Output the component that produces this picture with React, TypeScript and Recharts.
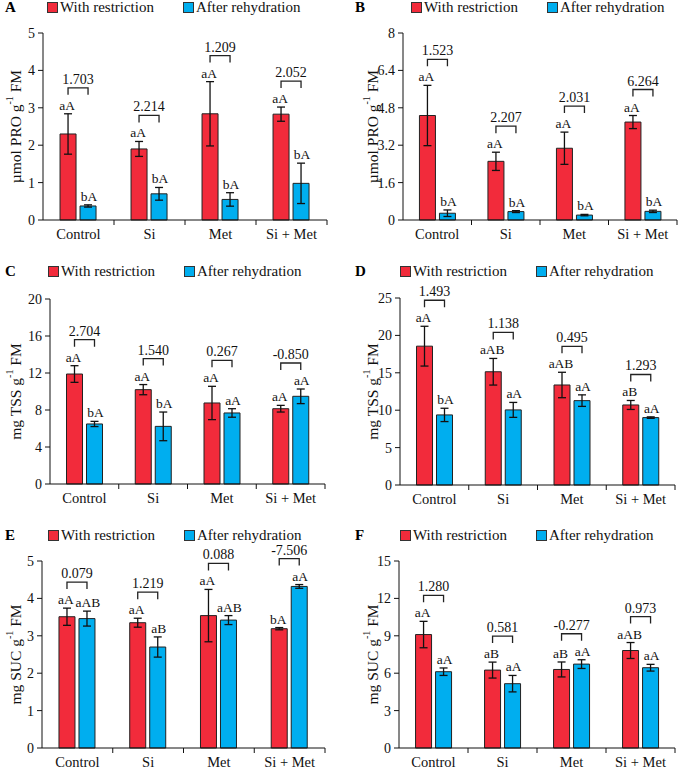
import React from "react";
import { BarChart, Bar, XAxis, YAxis, ErrorBar, LabelList, Legend } from "recharts";

const FONT = '"Liberation Serif", "Times New Roman", serif';
const RED = "#F22B3B";
const BLUE = "#00AEEF";
const BAR_GAP = 4;

const categories = ["Control", "Si", "Met", "Si + Met"];
const seriesNames = ["With restriction", "After rehydration"];

// A - proline
const proARestr = [2.3, 1.9, 2.84, 2.83];
const proARestrErr = [0.54, 0.2, 0.86, 0.19];
const proARehyd = [0.375, 0.7, 0.55, 0.98];
const proARehydErr = [0.03, 0.17, 0.18, 0.54];
const proARestrLetters = ["aA", "aA", "aA", "aA"];
const proARehydLetters = ["bA", "bA", "bA", "bA"];
const proAChange = ["1.703", "2.214", "1.209", "2.052"];
const proATicks = [0, 1, 2, 3, 4, 5];

// B - proline
const proBRestr = [4.47, 2.51, 3.07, 4.19];
const proBRestrErr = [1.29, 0.39, 0.69, 0.28];
const proBRehyd = [0.29, 0.36, 0.21, 0.37];
const proBRehydErr = [0.14, 0.04, 0.03, 0.05];
const proBRestrLetters = ["aA", "aA", "aA", "aA"];
const proBRehydLetters = ["bA", "bA", "bA", "bA"];
const proBChange = ["1.523", "2.207", "2.031", "6.264"];
const proBTicks = [0, 1.6, 3.2, 4.8, 6.4, 8];

// C - total soluble sugars
const tssCRestr = [11.89, 10.2, 8.76, 8.14];
const tssCRestrErr = [0.9, 0.55, 1.8, 0.36];
const tssCRehyd = [6.49, 6.23, 7.68, 9.48];
const tssCRehydErr = [0.28, 1.55, 0.46, 0.79];
const tssCRestrLetters = ["aA", "aA", "aA", "aA"];
const tssCRehydLetters = ["bA", "bA", "aA", "aA"];
const tssCChange = ["2.704", "1.540", "0.267", "-0.850"];
const tssCTicks = [0, 4, 8, 12, 16, 20];

// D - total soluble sugars
const tssDRestr = [18.56, 15.14, 13.37, 10.7];
const tssDRestrErr = [2.66, 1.78, 1.7, 0.6];
const tssDRehyd = [9.37, 10.04, 11.28, 9.01];
const tssDRehydErr = [0.89, 1.0, 0.77, 0.1];
const tssDRestrLetters = ["aA", "aAB", "aAB", "aB"];
const tssDRehydLetters = ["bA", "aA", "aA", "aA"];
const tssDChange = ["1.493", "1.138", "0.495", "1.293"];
const tssDTicks = [0, 5, 10, 15, 20, 25];

// E - sucrose
const sucERestr = [3.51, 3.35, 3.54, 3.19];
const sucERestrErr = [0.23, 0.12, 0.7, 0.03];
const sucERehyd = [3.46, 2.7, 3.42, 4.32];
const sucERehydErr = [0.2, 0.27, 0.12, 0.05];
const sucERestrLetters = ["aA", "aA", "aA", "bA"];
const sucERehydLetters = ["aAB", "aB", "aAB", "aA"];
const sucEChange = ["0.079", "1.219", "0.088", "-7.506"];
const sucETicks = [0, 1, 2, 3, 4, 5];

// F - sucrose
const sucFRestr = [9.1, 6.25, 6.3, 7.82];
const sucFRestrErr = [1.06, 0.64, 0.6, 0.64];
const sucFRehyd = [6.12, 5.16, 6.73, 6.44];
const sucFRehydErr = [0.3, 0.66, 0.35, 0.27];
const sucFRestrLetters = ["aA", "aB", "aB", "aAB"];
const sucFRehydLetters = ["aA", "aA", "aA", "aA"];
const sucFChange = ["1.280", "0.581", "-0.277", "0.973"];
const sucFTicks = [0, 3, 6, 9, 12, 15];

type Row = {
  name: string;
  restr: number;
  restrErr: number;
  rehyd: number;
  rehydErr: number;
  restrLetter: string;
  rehydLetter: string;
  change: string;
};

type Box = {
  left: number; top: number; w: number; h: number;
  plotL: number; plotT: number; plotR: number; plotB: number;
  legX: number; legY: number; tagX: number; labelX: number;
};

function makeLabel(rows: Row[], which: "restr" | "rehyd") {
  return (props: any) => {
    const vb = props.viewBox ?? props;
    const row = rows[props.index];
    if (!row || !vb) return null;
    const { x, y, width, height } = vb;
    const val = which === "restr" ? row.restr : row.rehyd;
    const err = which === "restr" ? row.restrErr : row.rehydErr;
    const ppu = height / val;
    const cx = x + width / 2;
    const letterY = y - err * ppu - 4;
    const letter = which === "restr" ? row.restrLetter : row.rehydLetter;
    if (which === "rehyd") {
      return (
        <text x={cx + 1} y={letterY} textAnchor="middle" fontSize={13.5} fontFamily={FONT} fill="#111">
          {letter}
        </text>
      );
    }
    // bracket between the pair, above the higher letter
    const base = y + height;
    const bcx = x + width + BAR_GAP + width / 2;
    const blueLetterY = base - (row.rehyd + row.rehydErr) * ppu - 4;
    const by = Math.min(letterY, blueLetterY) - 22;
    return (
      <g>
        <text x={cx - 1} y={letterY} textAnchor="middle" fontSize={13.5} fontFamily={FONT} fill="#111">
          {letter}
        </text>
        <path d={`M${cx},${by + 7}V${by}H${bcx}V${by + 7}`} fill="none" stroke="#222" strokeWidth={1.3} />
        <text x={(cx + bcx) / 2} y={by - 4} textAnchor="middle" fontSize={14} fontFamily={FONT} fill="#111">
          {row.change}
        </text>
      </g>
    );
  };
}

function CategoryTick({ x, y, payload, index, band }: any) {
  return (
    <g>
      <text x={x} y={y + 14} textAnchor="middle" dominantBaseline="central" fontSize={14.5} fontFamily={FONT} fill="#111">
        {payload.value}
      </text>
      {index > 0 && <line x1={x - band / 2} x2={x - band / 2} y1={y} y2={y + 5} stroke="#111" />}
      {index === 3 && <line x1={x + band / 2} x2={x + band / 2} y1={y} y2={y + 5} stroke="#111" />}
    </g>
  );
}

function YTitle({ cx, cy, unit }: any) {
  return (
    <text
      x={cx}
      y={cy}
      transform={`rotate(-90 ${cx} ${cy})`}
      textAnchor="middle"
      dominantBaseline="central"
      fontSize={15.5}
      fontFamily={FONT}
      fill="#111"
    >
      {unit} g<tspan dy={-6} fontSize={10}>-1</tspan>
      <tspan dy={6}> FM</tspan>
    </text>
  );
}

function LegendRow({ payload }: any) {
  const items = [...(payload || [])].sort(
    (a: any, b: any) => seriesNames.indexOf(a.value) - seriesNames.indexOf(b.value)
  );
  return (
    <div style={{ display: "flex", alignItems: "center", fontFamily: FONT, fontSize: 15, lineHeight: "18px", whiteSpace: "nowrap", color: "#111" }}>
      {items.map((p: any, i: number) => (
        <span key={i} style={{ display: "flex", alignItems: "center", marginRight: i === 0 ? 29 : 0 }}>
          <span style={{ width: 9, height: 9, background: p.color, border: "1px solid #333", marginRight: 2 }} />
          {p.value}
        </span>
      ))}
    </div>
  );
}

function Panel(props: {
  tag: string; unit: string; ticks: number[]; box: Box;
  restr: number[]; restrErr: number[]; rehyd: number[]; rehydErr: number[];
  restrLetters: string[]; rehydLetters: string[]; change: string[];
}) {
  const { box, ticks } = props;
  const rows: Row[] = categories.map((name, i) => ({
    name,
    restr: props.restr[i],
    restrErr: props.restrErr[i],
    rehyd: props.rehyd[i],
    rehydErr: props.rehydErr[i],
    restrLetter: props.restrLetters[i],
    rehydLetter: props.rehydLetters[i],
    change: props.change[i],
  }));
  const band = (box.plotR - box.plotL) / categories.length;
  return (
    <div style={{ position: "absolute", left: box.left, top: box.top, width: box.w, height: box.h }}>
      <div style={{ position: "absolute", left: box.tagX, top: box.legY - 9, fontFamily: FONT, fontWeight: "bold", fontSize: 15, lineHeight: "18px", zIndex: 2 }}>
        {props.tag}
      </div>
      <BarChart
        width={box.w}
        height={box.h}
        data={rows}
        margin={{ top: box.plotT, right: box.w - box.plotR, left: 0, bottom: box.h - box.plotB - 20 }}
        barGap={BAR_GAP}
        barCategoryGap="24%"
        style={{ overflow: "visible" }}
      >
        <XAxis
          dataKey="name"
          height={20}
          interval={0}
          tickLine={false}
          tickSize={0}
          tickMargin={0}
          axisLine={{ stroke: "#111" }}
          tick={<CategoryTick band={band} />}
        />
        <YAxis
          width={box.plotL}
          domain={[0, ticks[ticks.length - 1]]}
          ticks={ticks}
          interval={0}
          axisLine={{ stroke: "#111" }}
          tickLine={{ stroke: "#111" }}
          tickSize={5}
          tickMargin={3}
          tick={{ fill: "#111", fontSize: 14, fontFamily: FONT }}
          label={<YTitle cx={box.labelX} cy={(box.plotT + box.plotB) / 2} unit={props.unit} />}
        />
        <Legend
          layout="horizontal"
          verticalAlign="middle"
          align="center"
          itemSorter={(item: any) => seriesNames.indexOf(item.value)}
          wrapperStyle={{ top: box.legY - 9, left: box.legX, width: 300 }}
          content={<LegendRow />}
        />
        <Bar dataKey="restr" name={seriesNames[0]} fill={RED} stroke="#222" strokeWidth={1} isAnimationActive={false}>
          <ErrorBar dataKey="restrErr" width={4} stroke="#111" strokeWidth={1.3} direction="y" />
          <LabelList dataKey="restrLetter" content={makeLabel(rows, "restr")} />
        </Bar>
        <Bar dataKey="rehyd" name={seriesNames[1]} fill={BLUE} stroke="#222" strokeWidth={1} isAnimationActive={false}>
          <ErrorBar dataKey="rehydErr" width={4} stroke="#111" strokeWidth={1.3} direction="y" />
          <LabelList dataKey="rehydLetter" content={makeLabel(rows, "rehyd")} />
        </Bar>
      </BarChart>
    </div>
  );
}

const boxA: Box = { left: 0, top: 0, w: 340, h: 256, plotL: 43, plotT: 33, plotR: 327, plotB: 220, legX: 47, legY: 7, tagX: 5, labelX: 15 };
const boxB: Box = { left: 340, top: 0, w: 339, h: 256, plotL: 63, plotT: 33, plotR: 337, plotB: 220, legX: 71, legY: 7, tagX: 15, labelX: 32 };
const boxC: Box = { left: 0, top: 256, w: 340, h: 256, plotL: 50, plotT: 43, plotR: 325, plotB: 228, legX: 48, legY: 15, tagX: 5, labelX: 15 };
const boxD: Box = { left: 340, top: 256, w: 339, h: 256, plotL: 60, plotT: 42, plotR: 335, plotB: 229, legX: 60, legY: 15, tagX: 15, labelX: 32 };
const boxE: Box = { left: 0, top: 512, w: 340, h: 257, plotL: 42, plotT: 49, plotR: 325, plotB: 236, legX: 48, legY: 23, tagX: 5, labelX: 15 };
const boxF: Box = { left: 340, top: 512, w: 339, h: 257, plotL: 59, plotT: 49, plotR: 335, plotB: 236, legX: 60, legY: 23, tagX: 15, labelX: 32 };

export default function App() {
  return (
    <div style={{ position: "absolute", left: 0, top: 0, width: 679, height: 769, background: "#fff" }}>
      <Panel tag="A" unit="µmol PRO" ticks={proATicks} box={boxA}
        restr={proARestr} restrErr={proARestrErr} rehyd={proARehyd} rehydErr={proARehydErr}
        restrLetters={proARestrLetters} rehydLetters={proARehydLetters} change={proAChange} />
      <Panel tag="B" unit="µmol PRO" ticks={proBTicks} box={boxB}
        restr={proBRestr} restrErr={proBRestrErr} rehyd={proBRehyd} rehydErr={proBRehydErr}
        restrLetters={proBRestrLetters} rehydLetters={proBRehydLetters} change={proBChange} />
      <Panel tag="C" unit="mg TSS" ticks={tssCTicks} box={boxC}
        restr={tssCRestr} restrErr={tssCRestrErr} rehyd={tssCRehyd} rehydErr={tssCRehydErr}
        restrLetters={tssCRestrLetters} rehydLetters={tssCRehydLetters} change={tssCChange} />
      <Panel tag="D" unit="mg TSS" ticks={tssDTicks} box={boxD}
        restr={tssDRestr} restrErr={tssDRestrErr} rehyd={tssDRehyd} rehydErr={tssDRehydErr}
        restrLetters={tssDRestrLetters} rehydLetters={tssDRehydLetters} change={tssDChange} />
      <Panel tag="E" unit="mg SUC" ticks={sucETicks} box={boxE}
        restr={sucERestr} restrErr={sucERestrErr} rehyd={sucERehyd} rehydErr={sucERehydErr}
        restrLetters={sucERestrLetters} rehydLetters={sucERehydLetters} change={sucEChange} />
      <Panel tag="F" unit="mg SUC" ticks={sucFTicks} box={boxF}
        restr={sucFRestr} restrErr={sucFRestrErr} rehyd={sucFRehyd} rehydErr={sucFRehydErr}
        restrLetters={sucFRestrLetters} rehydLetters={sucFRehydLetters} change={sucFChange} />
    </div>
  );
}
